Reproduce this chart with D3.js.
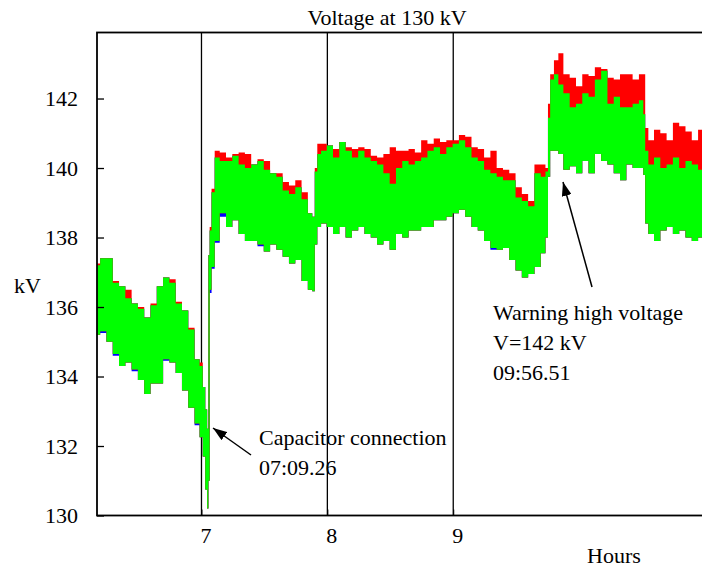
<!DOCTYPE html>
<html>
<head>
<meta charset="utf-8">
<script src="https://cdn.jsdelivr.net/npm/d3@7"></script>
<style>
  body { margin: 0; background: #fff; }
  svg text { font-family: "Liberation Serif", "Times New Roman", Times, "DejaVu Serif", serif; font-size: 22px; fill: #000; }
</style>
</head>
<body>
<script>
// envelopes of the three phase voltages (kV)
var hours = [6.17, 6.22, 6.27, 6.32, 6.37, 6.42, 6.47, 6.52, 6.57, 6.62,
  6.67, 6.72, 6.77, 6.82, 6.87, 6.92, 6.97, 7.00, 7.02, 7.04,
  7.05, 7.06, 7.07, 7.09, 7.12, 7.17, 7.22, 7.27, 7.32, 7.37,
  7.42, 7.47, 7.52, 7.57, 7.62, 7.67, 7.72, 7.77, 7.82, 7.87,
  7.89, 7.91, 7.93, 7.97, 8.02, 8.07, 8.12, 8.17, 8.22, 8.27,
  8.32, 8.37, 8.42, 8.47, 8.52, 8.57, 8.62, 8.67, 8.72, 8.77,
  8.82, 8.87, 8.92, 8.97, 9.02, 9.07, 9.12, 9.17, 9.22, 9.27,
  9.32, 9.37, 9.42, 9.47, 9.52, 9.57, 9.62, 9.67, 9.72, 9.745,
  9.76, 9.78, 9.82, 9.85, 9.90, 9.95, 10.00, 10.05, 10.10, 10.15,
  10.20, 10.25, 10.30, 10.35, 10.40, 10.45, 10.50, 10.52, 10.53, 10.57,
  10.62, 10.67, 10.72, 10.77, 10.82, 10.87, 10.92, 10.97, 11.0];

var greenHi = [137.2, 137.4, 137.4, 136.7, 136.6, 136.25, 136.1, 135.95, 135.7, 136.05,
  136.6, 136.85, 136.7, 136.1, 135.9, 135.35, 134.5, 134.3, 133.7, 133.05,
  132.5, 137.5, 138.2, 139.3, 140.3, 140.2, 140.2, 140.35, 140.1, 140.0,
  140.1, 140.2, 139.95, 139.85, 139.75, 139.35, 139.25, 139.45, 139.1, 138.7,
  138.6, 139.9, 140.4, 140.5, 140.65, 140.3, 140.75, 140.5, 140.3, 140.5,
  140.3, 140.2, 140.1, 139.85, 139.55, 140.0, 140.2, 140.1, 140.2, 140.3,
  140.5, 140.6, 140.4, 140.6, 140.7, 140.8, 140.6, 140.3, 140.2, 139.95,
  139.85, 139.75, 139.65, 139.65, 139.15, 139.05, 138.9, 139.85, 139.75, 139.9,
  141.45, 142.55, 142.7, 142.4, 142.15, 141.75, 141.85, 142.15, 142.05, 142.55,
  142.8, 141.85, 142.05, 141.75, 141.75, 141.85, 141.95, 141.55, 140.5, 140.1,
  140.3, 140.0, 140.1, 140.3, 140.0, 140.2, 140.1, 139.95, 140.1];

var greenLo = [135.2, 135.3, 135.0, 134.65, 134.3, 134.4, 134.2, 133.9, 133.5, 133.8,
  133.8, 134.5, 134.4, 134.1, 133.6, 133.1, 132.65, 132.25, 131.7, 130.75,
  130.2, 131.0, 136.5, 137.15, 137.9, 138.7, 138.3, 138.5, 138.1, 137.9,
  137.9, 137.8, 137.6, 137.8, 137.65, 137.45, 137.25, 137.35, 136.75, 136.5,
  136.45, 137.8, 138.3, 138.4, 138.3, 138.1, 138.3, 138.0, 138.2, 138.3,
  138.1, 138.0, 137.8, 137.9, 137.65, 138.1, 138.0, 138.2, 138.2, 138.3,
  138.3, 138.5, 138.5, 138.6, 138.7, 138.8, 138.6, 138.3, 138.2, 137.9,
  137.7, 137.65, 137.7, 137.35, 137.05, 136.85, 136.95, 137.15, 137.55, 138.0,
  139.75, 140.5, 140.5, 140.4, 139.95, 140.05, 139.85, 140.2, 139.85, 140.4,
  140.2, 140.1, 139.85, 139.65, 140.1, 140.0, 140.0, 139.8, 138.4, 138.1,
  137.9, 138.2, 138.3, 138.1, 138.2, 138.0, 137.9, 138.0, 138.1];

var redHi = [137.25, 137.4, 137.4, 136.75, 136.6, 136.5, 136.1, 136.0, 135.7, 136.1,
  136.6, 136.85, 136.8, 136.15, 135.9, 135.4, 134.5, 134.4, 133.7, 133.05,
  132.5, 137.5, 138.3, 139.4, 140.5, 140.45, 140.3, 140.4, 140.45, 140.4,
  140.1, 140.25, 140.2, 139.85, 139.85, 139.6, 139.5, 139.65, 139.3, 138.7,
  138.6, 140.0, 140.7, 140.7, 140.65, 140.55, 140.75, 140.6, 140.55, 140.6,
  140.55, 140.35, 140.3, 140.4, 140.6, 140.5, 140.5, 140.55, 140.45, 140.8,
  140.7, 140.85, 140.75, 140.8, 140.8, 140.95, 140.9, 140.6, 140.55, 140.3,
  140.5, 140.0, 139.95, 139.85, 139.45, 139.25, 139.05, 140.1, 140.1, 140.0,
  141.85, 142.7, 143.1, 143.3, 142.7, 142.6, 142.35, 142.7, 142.65, 142.9,
  142.85, 142.6, 142.55, 142.7, 142.7, 142.55, 142.7, 142.7, 141.15, 140.8,
  141.1, 141.0, 140.8, 141.3, 141.2, 141.05, 140.8, 141.1, 141.0];

var blueLo = [135.2, 135.25, 135.0, 134.6, 134.3, 134.4, 134.15, 133.9, 133.5, 133.8,
  133.8, 134.45, 134.4, 134.1, 133.6, 133.1, 132.6, 132.25, 131.7, 130.75,
  130.2, 131.0, 136.4, 137.1, 137.85, 138.6, 138.3, 138.5, 138.1, 137.9,
  137.9, 137.75, 137.6, 137.8, 137.65, 137.45, 137.25, 137.35, 136.75, 136.5,
  136.45, 137.8, 138.3, 138.4, 138.3, 138.1, 138.3, 138.0, 138.2, 138.3,
  138.1, 138.0, 137.8, 137.9, 137.65, 138.1, 138.0, 138.2, 138.2, 138.3,
  138.3, 138.5, 138.5, 138.6, 138.7, 138.8, 138.6, 138.3, 138.2, 137.9,
  137.65, 137.65, 137.7, 137.35, 137.05, 136.85, 136.95, 137.15, 137.55, 138.0,
  139.75, 140.5, 140.5, 140.4, 139.95, 140.05, 139.85, 140.2, 139.85, 140.4,
  140.2, 140.1, 139.85, 139.65, 140.1, 140.0, 140.0, 139.8, 138.4, 138.1,
  137.9, 138.2, 138.3, 138.1, 138.2, 138.0, 137.9, 138.0, 138.1];

var yTicks = [130, 132, 134, 136, 138, 140, 142];
var xTicks = [7, 8, 9];

//set up svg
var width = 702;
var height = 567;
var plot = {left: 97, top: 32.5, right: 705, bottom: 515.5};
var serif = "'Liberation Serif', 'Times New Roman', Times, 'DejaVu Serif', serif";

var xChart = d3.scaleLinear()
  .domain([6.17, 11])
  .range([plot.left, plot.right]);

var yChart = d3.scaleLinear()
  .domain([130, 143.9])
  .range([plot.bottom, plot.top]);

var svg = d3.select("body").append("svg")
  .attr("width", width)
  .attr("height", height)
  .attr("font-family", serif)
  .attr("font-size", 22);

var defs = svg.append("defs");
defs.append("clipPath")
  .attr("id", "plotclip")
  .append("rect")
  .attr("x", plot.left)
  .attr("y", plot.top)
  .attr("width", plot.right - plot.left)
  .attr("height", plot.bottom - plot.top);

defs.append("marker")
  .attr("id", "head")
  .attr("markerUnits", "userSpaceOnUse")
  .attr("viewBox", "0 0 14 10")
  .attr("refX", 14)
  .attr("refY", 5)
  .attr("markerWidth", 14)
  .attr("markerHeight", 10)
  .attr("orient", "auto")
  .append("path")
  .attr("d", "M0,0 L14,5 L0,10 Z")
  .attr("fill", "#000");

//hour grid lines
svg.selectAll(".hourline")
  .data(xTicks)
  .enter()
  .append("line")
  .attr("class", "hourline")
  .attr("x1", function(d) { return xChart(d); })
  .attr("x2", function(d) { return xChart(d); })
  .attr("y1", plot.top)
  .attr("y2", plot.bottom)
  .attr("stroke", "#000")
  .attr("stroke-width", 1.3);

//bands: blue below, red above, green on top
function band(lo, hi) {
  return d3.area()
    .curve(d3.curveStep)
    .x(function(d, i) { return xChart(hours[i]); })
    .y0(function(d, i) { return yChart(lo[i]); })
    .y1(function(d, i) { return yChart(hi[i]); });
}

var g = svg.append("g").attr("clip-path", "url(#plotclip)");

g.append("path")
  .datum(hours)
  .attr("d", band(blueLo, greenHi))
  .attr("fill", "#0000ff");

g.append("path")
  .datum(hours)
  .attr("d", band(greenLo, redHi))
  .attr("fill", "#ff0000");

g.append("path")
  .datum(hours)
  .attr("d", band(greenLo, greenHi))
  .attr("fill", "#00ff00");

//frame
svg.append("rect")
  .attr("x", plot.left)
  .attr("y", plot.top)
  .attr("width", plot.right - plot.left)
  .attr("height", plot.bottom - plot.top)
  .attr("fill", "none")
  .attr("stroke", "#000")
  .attr("stroke-width", 1.8);

//left axis
var yAxis = d3.axisLeft(yChart)
  .tickValues(yTicks)
  .tickSizeInner(-7)
  .tickSizeOuter(0)
  .tickPadding(19)
  .tickFormat(d3.format("d"));

svg.append("g")
  .attr("class", "y axis")
  .attr("transform", "translate(" + plot.left + ",0)")
  .call(yAxis)
  .attr("font-family", serif)
  .attr("font-size", 22)
  .call(function(a) {
    a.select(".domain").remove();
    a.selectAll("line").attr("stroke", "#000").attr("stroke-width", 1.3);
  });

//bottom axis
var xAxis = d3.axisBottom(xChart)
  .tickValues(xTicks)
  .tickSizeInner(-6)
  .tickSizeOuter(0)
  .tickPadding(12)
  .tickFormat(d3.format("d"));

svg.append("g")
  .attr("class", "xAxis")
  .attr("transform", "translate(0," + plot.bottom + ")")
  .call(xAxis)
  .attr("font-family", serif)
  .attr("font-size", 22)
  .call(function(a) {
    a.select(".domain").remove();
    a.selectAll("line").attr("stroke", "#000");
    a.selectAll("text").attr("dx", 4);
  });

//labels
svg.append("text")
  .attr("x", 387)
  .attr("y", 25)
  .attr("text-anchor", "middle")
  .text("Voltage at 130 kV");

svg.append("text")
  .attr("x", 14)
  .attr("y", 293)
  .text("kV");

svg.append("text")
  .attr("x", 587)
  .attr("y", 563)
  .text("Hours");

//annotations
svg.append("line")
  .attr("x1", 251).attr("y1", 455)
  .attr("x2", 213).attr("y2", 428)
  .attr("stroke", "#000")
  .attr("stroke-width", 1.5)
  .attr("marker-end", "url(#head)");

svg.append("text").attr("x", 259).attr("y", 445).text("Capacitor connection");
svg.append("text").attr("x", 259).attr("y", 475).text("07:09.26");

svg.append("line")
  .attr("x1", 592).attr("y1", 287)
  .attr("x2", 563).attr("y2", 182)
  .attr("stroke", "#000")
  .attr("stroke-width", 1.5)
  .attr("marker-end", "url(#head)");

svg.append("text").attr("x", 493).attr("y", 320).text("Warning high voltage");
svg.append("text").attr("x", 493).attr("y", 350).text("V=142 kV");
svg.append("text").attr("x", 493).attr("y", 380).text("09:56.51");
</script>
</body>
</html>
